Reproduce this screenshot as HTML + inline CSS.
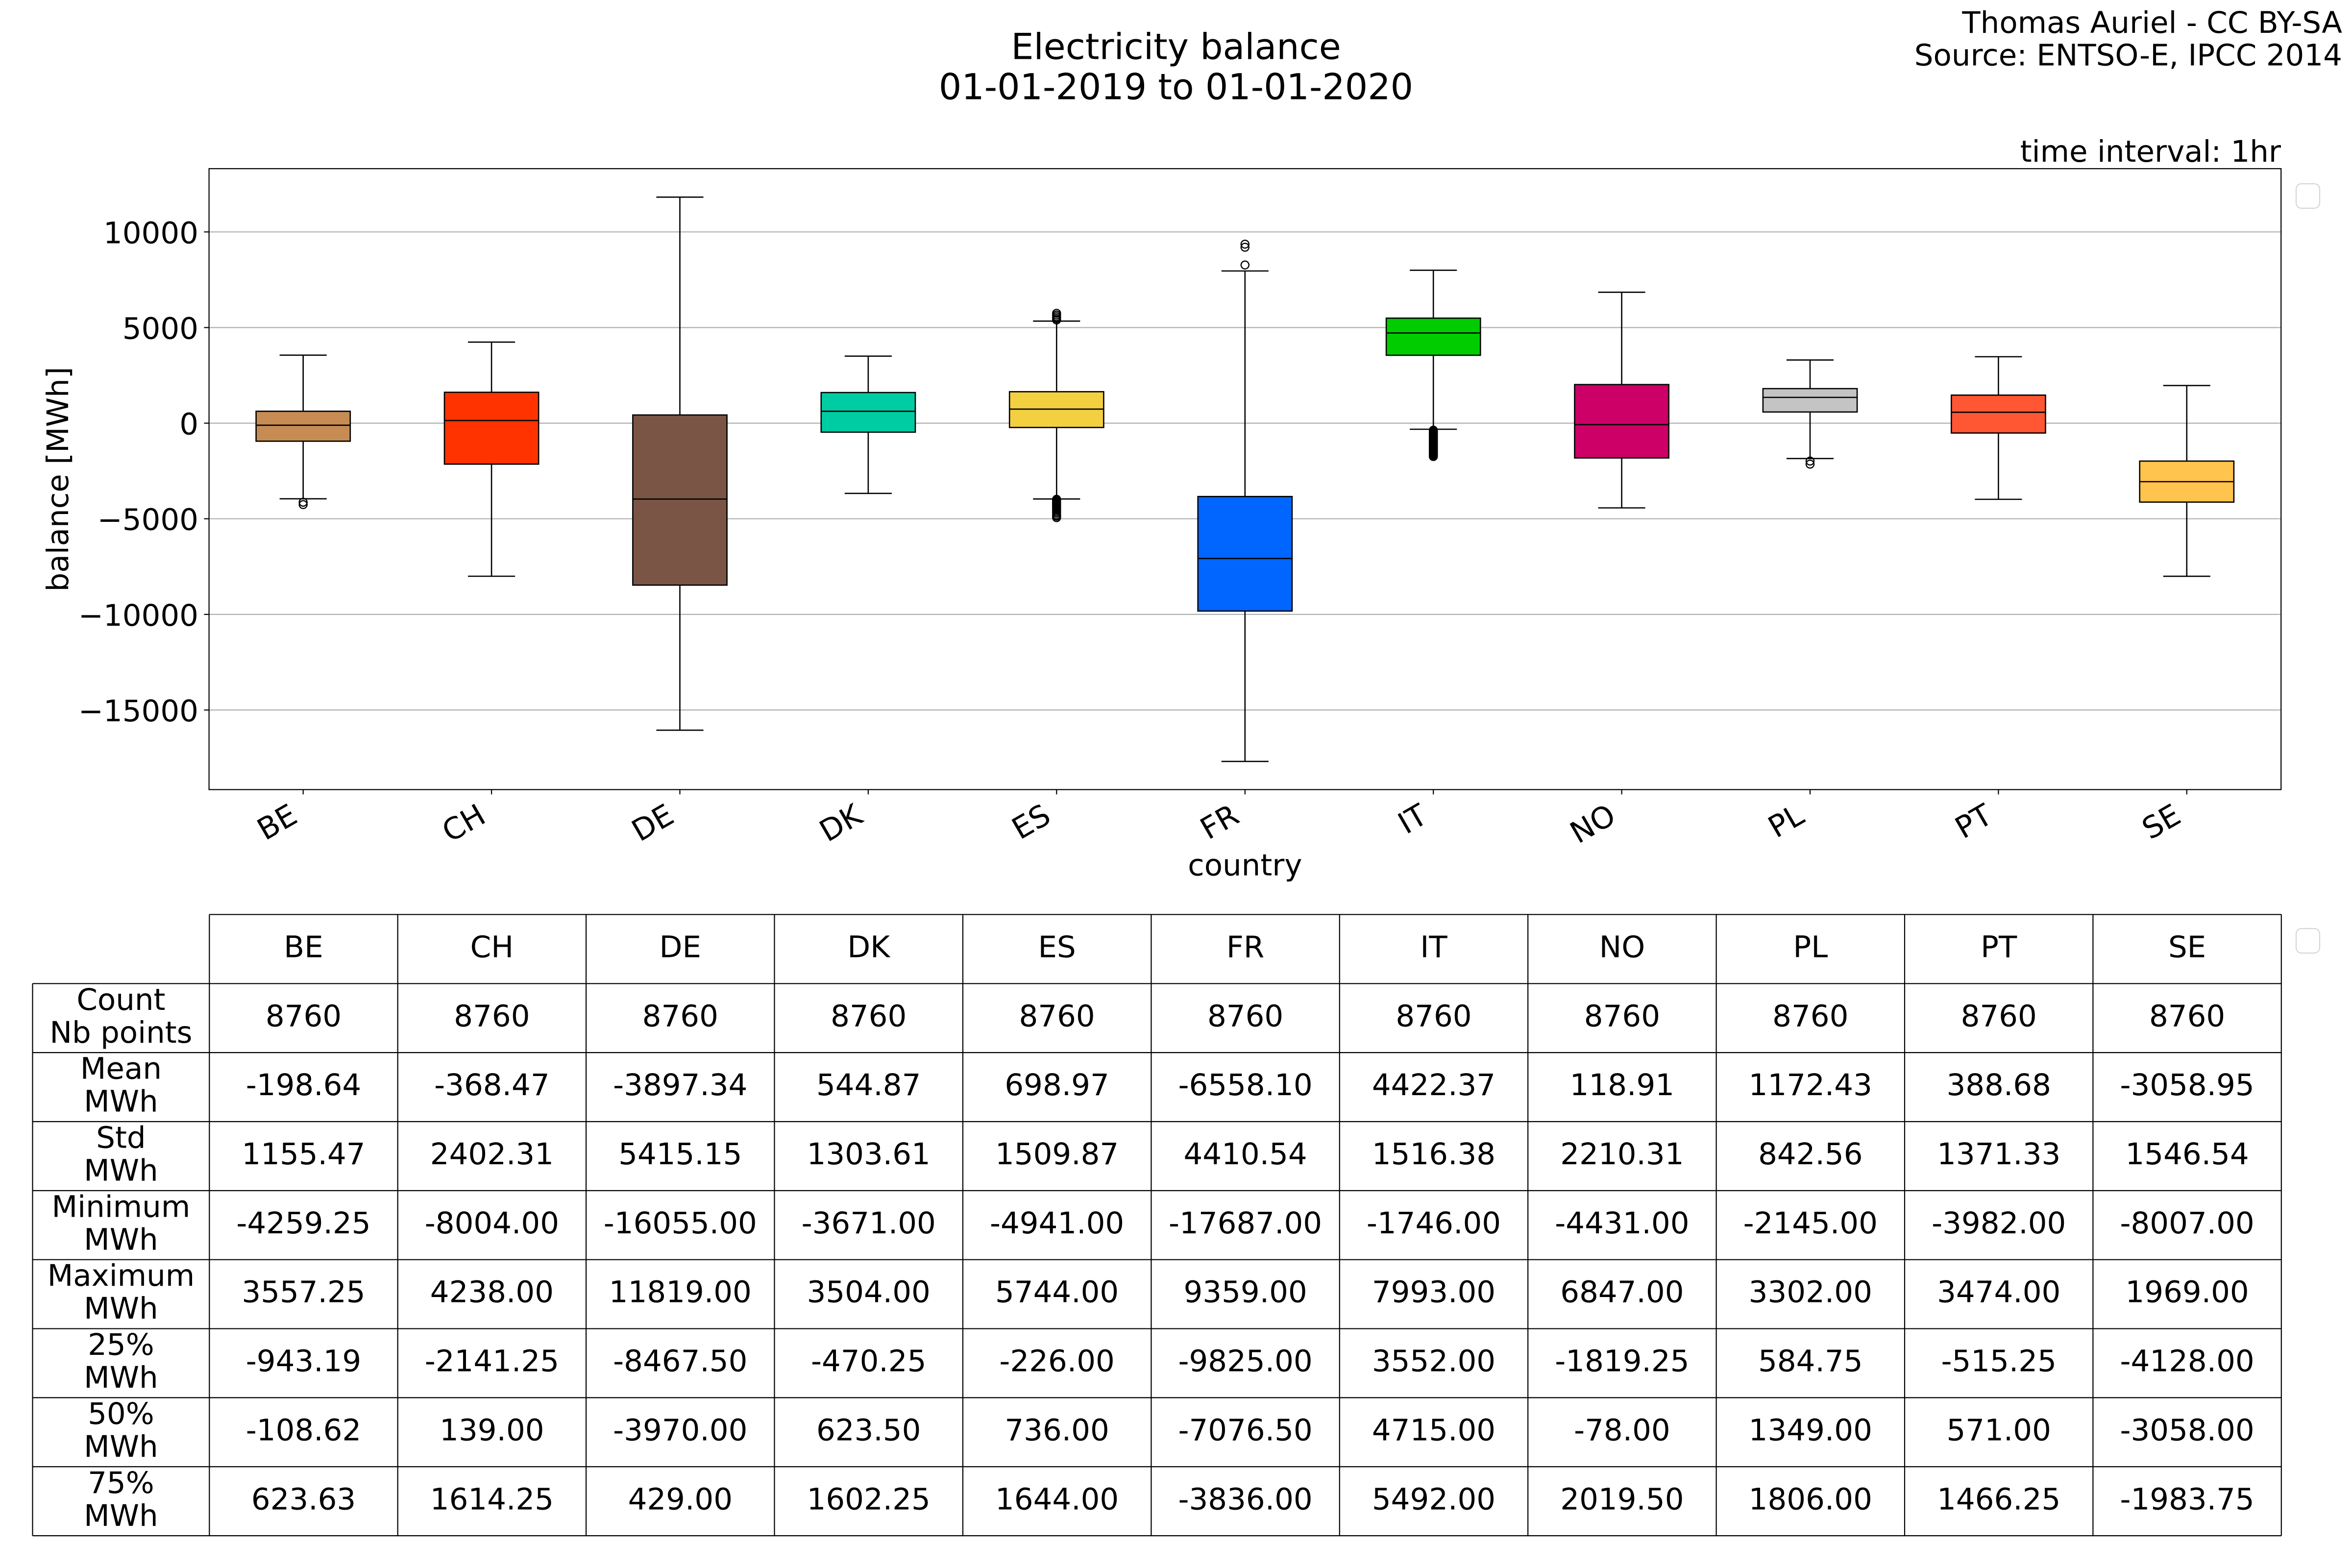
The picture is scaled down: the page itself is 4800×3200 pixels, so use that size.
<!DOCTYPE html>
<html><head><meta charset="utf-8"><style>html,body{margin:0;padding:0;background:#fff;}svg{display:block}</style></head>
<body>
<svg xmlns="http://www.w3.org/2000/svg" width="4800" height="3200" viewBox="0 0 4800 3200" font-family="'DejaVu Sans','Liberation Sans',sans-serif">
<rect x="0" y="0" width="4800" height="3200" fill="#fff"/>
<!-- titles -->
<text x="2400" y="120.5" font-size="73" text-anchor="middle">Electricity balance</text>
<text x="2400" y="202.5" font-size="73" text-anchor="middle">01-01-2019 to 01-01-2020</text>
<text x="4780" y="66.8" font-size="61" text-anchor="end">Thomas Auriel - CC BY-SA</text>
<text x="4780" y="133.6" font-size="61" text-anchor="end">Source: ENTSO-E, IPCC 2014</text>
<text x="4655" y="330" font-size="61" text-anchor="end">time interval: 1hr</text>

<!-- gridlines -->
<g stroke="#b0b0b0" stroke-width="2.2">
<line x1="427" y1="473.3" x2="4655" y2="473.3"/>
<line x1="427" y1="668.5" x2="4655" y2="668.5"/>
<line x1="427" y1="863.6" x2="4655" y2="863.6"/>
<line x1="427" y1="1058.7" x2="4655" y2="1058.7"/>
<line x1="427" y1="1253.9" x2="4655" y2="1253.9"/>
<line x1="427" y1="1449.0" x2="4655" y2="1449.0"/>
</g>

<!-- boxes -->
<g stroke="#000" stroke-width="2.6">
<!-- BE -->
<line x1="618.7" y1="839.3" x2="618.7" y2="724.8"/><line x1="618.7" y1="900.4" x2="618.7" y2="1017.9"/>
<line x1="570.65" y1="724.8" x2="666.75" y2="724.8"/><line x1="570.65" y1="1017.9" x2="666.75" y2="1017.9"/>
<rect x="522.6" y="839.3" width="192.2" height="61.1" fill="#c68c53"/>
<line x1="522.6" y1="867.8" x2="714.8" y2="867.8"/>
<!-- CH -->
<line x1="1003.1" y1="800.6" x2="1003.1" y2="698.2"/><line x1="1003.1" y1="947.2" x2="1003.1" y2="1176.0"/>
<line x1="955.05" y1="698.2" x2="1051.15" y2="698.2"/><line x1="955.05" y1="1176.0" x2="1051.15" y2="1176.0"/>
<rect x="907.0" y="800.6" width="192.2" height="146.6" fill="#ff3300"/>
<line x1="907.0" y1="858.2" x2="1099.2" y2="858.2"/>
<!-- DE -->
<line x1="1387.5" y1="846.9" x2="1387.5" y2="402.3"/><line x1="1387.5" y1="1194.1" x2="1387.5" y2="1490.2"/>
<line x1="1339.45" y1="402.3" x2="1435.55" y2="402.3"/><line x1="1339.45" y1="1490.2" x2="1435.55" y2="1490.2"/>
<rect x="1291.4" y="846.9" width="192.2" height="347.2" fill="#7a5546"/>
<line x1="1291.4" y1="1018.5" x2="1483.6" y2="1018.5"/>
<!-- DK -->
<line x1="1771.9" y1="801.1" x2="1771.9" y2="726.8"/><line x1="1771.9" y1="881.95" x2="1771.9" y2="1006.9"/>
<line x1="1723.85" y1="726.8" x2="1819.95" y2="726.8"/><line x1="1723.85" y1="1006.9" x2="1819.95" y2="1006.9"/>
<rect x="1675.8" y="801.1" width="192.2" height="80.85" fill="#00cca3"/>
<line x1="1675.8" y1="839.3" x2="1868.0" y2="839.3"/>
<!-- ES -->
<line x1="2156.3" y1="799.4" x2="2156.3" y2="655.3"/><line x1="2156.3" y1="872.4" x2="2156.3" y2="1018.3"/>
<line x1="2108.25" y1="655.3" x2="2204.35" y2="655.3"/><line x1="2108.25" y1="1018.3" x2="2204.35" y2="1018.3"/>
<rect x="2060.2" y="799.4" width="192.2" height="73.0" fill="#f3d040"/>
<line x1="2060.2" y1="834.9" x2="2252.4" y2="834.9"/>
<!-- FR -->
<line x1="2540.8" y1="1013.3" x2="2540.8" y2="553.0"/><line x1="2540.8" y1="1247.0" x2="2540.8" y2="1553.9"/>
<line x1="2492.75" y1="553.0" x2="2588.85" y2="553.0"/><line x1="2492.75" y1="1553.9" x2="2588.85" y2="1553.9"/>
<rect x="2444.7" y="1013.3" width="192.2" height="233.7" fill="#0066ff"/>
<line x1="2444.7" y1="1139.8" x2="2636.9" y2="1139.8"/>
<!-- IT -->
<line x1="2925.2" y1="649.3" x2="2925.2" y2="551.6"/><line x1="2925.2" y1="725.0" x2="2925.2" y2="876.0"/>
<line x1="2877.15" y1="551.6" x2="2973.25" y2="551.6"/><line x1="2877.15" y1="876.0" x2="2973.25" y2="876.0"/>
<rect x="2829.1" y="649.3" width="192.2" height="75.7" fill="#00cc00"/>
<line x1="2829.1" y1="679.6" x2="3021.3" y2="679.6"/>
<!-- NO -->
<line x1="3309.6" y1="784.8" x2="3309.6" y2="596.4"/><line x1="3309.6" y1="934.6" x2="3309.6" y2="1036.5"/>
<line x1="3261.55" y1="596.4" x2="3357.65" y2="596.4"/><line x1="3261.55" y1="1036.5" x2="3357.65" y2="1036.5"/>
<rect x="3213.5" y="784.8" width="192.2" height="149.8" fill="#cc0066"/>
<line x1="3213.5" y1="866.6" x2="3405.7" y2="866.6"/>
<!-- PL -->
<line x1="3694.0" y1="793.1" x2="3694.0" y2="734.7"/><line x1="3694.0" y1="840.8" x2="3694.0" y2="935.8"/>
<line x1="3645.95" y1="734.7" x2="3742.05" y2="734.7"/><line x1="3645.95" y1="935.8" x2="3742.05" y2="935.8"/>
<rect x="3597.9" y="793.1" width="192.2" height="47.7" fill="#c4c4c4"/>
<line x1="3597.9" y1="811.0" x2="3790.1" y2="811.0"/>
<!-- PT -->
<line x1="4078.4" y1="806.4" x2="4078.4" y2="728.0"/><line x1="4078.4" y1="883.7" x2="4078.4" y2="1019.0"/>
<line x1="4030.35" y1="728.0" x2="4126.45" y2="728.0"/><line x1="4030.35" y1="1019.0" x2="4126.45" y2="1019.0"/>
<rect x="3982.3" y="806.4" width="192.2" height="77.3" fill="#ff5733"/>
<line x1="3982.3" y1="841.3" x2="4174.5" y2="841.3"/>
<!-- SE -->
<line x1="4462.8" y1="941.0" x2="4462.8" y2="786.8"/><line x1="4462.8" y1="1024.7" x2="4462.8" y2="1176.1"/>
<line x1="4414.75" y1="786.8" x2="4510.85" y2="786.8"/><line x1="4414.75" y1="1176.1" x2="4510.85" y2="1176.1"/>
<rect x="4366.7" y="941.0" width="192.2" height="83.7" fill="#ffc44d"/>
<line x1="4366.7" y1="983.0" x2="4558.9" y2="983.0"/>
</g>

<!-- fliers -->
<g fill="none" stroke="#000" stroke-width="2.4">
<circle cx="618.7" cy="1025" r="8"/><circle cx="618.7" cy="1029.8" r="8"/>
<circle cx="2156.3" cy="639.4" r="8"/><circle cx="2156.3" cy="643" r="8"/><circle cx="2156.3" cy="646.5" r="8"/><circle cx="2156.3" cy="650" r="8"/><circle cx="2156.3" cy="653" r="8"/>
<circle cx="2156.3" cy="1019" r="8"/><circle cx="2156.3" cy="1020.5" r="8"/><circle cx="2156.3" cy="1022" r="8"/><circle cx="2156.3" cy="1023.5" r="8"/><circle cx="2156.3" cy="1025" r="8"/><circle cx="2156.3" cy="1026.5" r="8"/><circle cx="2156.3" cy="1028" r="8"/><circle cx="2156.3" cy="1029.5" r="8"/><circle cx="2156.3" cy="1031" r="8"/><circle cx="2156.3" cy="1032.5" r="8"/><circle cx="2156.3" cy="1034" r="8"/><circle cx="2156.3" cy="1035.5" r="8"/><circle cx="2156.3" cy="1037" r="8"/><circle cx="2156.3" cy="1038.5" r="8"/><circle cx="2156.3" cy="1041.5" r="8"/><circle cx="2156.3" cy="1044.5" r="8"/><circle cx="2156.3" cy="1047.5" r="8"/><circle cx="2156.3" cy="1051" r="8"/><circle cx="2156.3" cy="1053.5" r="8"/><circle cx="2156.3" cy="1056.4" r="8"/>
<circle cx="2540.8" cy="498.3" r="8"/><circle cx="2540.8" cy="504.6" r="8"/><circle cx="2540.8" cy="540.8" r="8"/>
<circle cx="2925.2" cy="878" r="8"/><circle cx="2925.2" cy="879.5" r="8"/><circle cx="2925.2" cy="881" r="8"/><circle cx="2925.2" cy="882.5" r="8"/><circle cx="2925.2" cy="884" r="8"/><circle cx="2925.2" cy="885.5" r="8"/><circle cx="2925.2" cy="887" r="8"/><circle cx="2925.2" cy="888.5" r="8"/><circle cx="2925.2" cy="890" r="8"/><circle cx="2925.2" cy="891.5" r="8"/><circle cx="2925.2" cy="893" r="8"/><circle cx="2925.2" cy="894.5" r="8"/><circle cx="2925.2" cy="896" r="8"/><circle cx="2925.2" cy="897.5" r="8"/><circle cx="2925.2" cy="899" r="8"/><circle cx="2925.2" cy="900.5" r="8"/><circle cx="2925.2" cy="902" r="8"/><circle cx="2925.2" cy="903.5" r="8"/><circle cx="2925.2" cy="905" r="8"/><circle cx="2925.2" cy="906.5" r="8"/><circle cx="2925.2" cy="908" r="8"/><circle cx="2925.2" cy="909.5" r="8"/><circle cx="2925.2" cy="911" r="8"/><circle cx="2925.2" cy="912.5" r="8"/><circle cx="2925.2" cy="914" r="8"/><circle cx="2925.2" cy="915.5" r="8"/><circle cx="2925.2" cy="917" r="8"/><circle cx="2925.2" cy="918.5" r="8"/><circle cx="2925.2" cy="920" r="8"/><circle cx="2925.2" cy="921.5" r="8"/><circle cx="2925.2" cy="923" r="8"/><circle cx="2925.2" cy="924.5" r="8"/><circle cx="2925.2" cy="926" r="8"/><circle cx="2925.2" cy="927.5" r="8"/><circle cx="2925.2" cy="929" r="8"/><circle cx="2925.2" cy="930.5" r="8"/><circle cx="2925.2" cy="931.7" r="8"/>
<circle cx="3694.0" cy="941" r="8"/><circle cx="3694.0" cy="947.2" r="8"/>
</g>

<!-- axes spine -->
<rect x="426.6" y="344.2" width="4228.6" height="1267.2" fill="none" stroke="#000" stroke-width="2.2"/>

<!-- ticks -->
<g stroke="#000" stroke-width="2.2">
<line x1="416.5" y1="473.3" x2="426.6" y2="473.3"/>
<line x1="416.5" y1="668.5" x2="426.6" y2="668.5"/>
<line x1="416.5" y1="863.6" x2="426.6" y2="863.6"/>
<line x1="416.5" y1="1058.7" x2="426.6" y2="1058.7"/>
<line x1="416.5" y1="1253.9" x2="426.6" y2="1253.9"/>
<line x1="416.5" y1="1449.0" x2="426.6" y2="1449.0"/>
<line x1="618.7" y1="1611.4" x2="618.7" y2="1621.2"/>
<line x1="1003.1" y1="1611.4" x2="1003.1" y2="1621.2"/>
<line x1="1387.5" y1="1611.4" x2="1387.5" y2="1621.2"/>
<line x1="1771.9" y1="1611.4" x2="1771.9" y2="1621.2"/>
<line x1="2156.3" y1="1611.4" x2="2156.3" y2="1621.2"/>
<line x1="2540.8" y1="1611.4" x2="2540.8" y2="1621.2"/>
<line x1="2925.2" y1="1611.4" x2="2925.2" y2="1621.2"/>
<line x1="3309.6" y1="1611.4" x2="3309.6" y2="1621.2"/>
<line x1="3694.0" y1="1611.4" x2="3694.0" y2="1621.2"/>
<line x1="4078.4" y1="1611.4" x2="4078.4" y2="1621.2"/>
<line x1="4462.8" y1="1611.4" x2="4462.8" y2="1621.2"/>
</g>

<!-- y tick labels -->
<g font-size="61" text-anchor="end">
<text x="405" y="496.3">10000</text>
<text x="405" y="691.5">5000</text>
<text x="405" y="886.6">0</text>
<text x="405" y="1081.7">−5000</text>
<text x="405" y="1276.9">−10000</text>
<text x="405" y="1472.0">−15000</text>
</g>
<text transform="translate(139,978) rotate(-90)" font-size="61" text-anchor="middle">balance [MWh]</text>

<!-- x tick labels -->
<g font-size="61" text-anchor="end">
<text transform="translate(610.7,1676) rotate(-30)">BE</text>
<text transform="translate(995.1,1676) rotate(-30)">CH</text>
<text transform="translate(1379.5,1676) rotate(-30)">DE</text>
<text transform="translate(1763.9,1676) rotate(-30)">DK</text>
<text transform="translate(2148.3,1676) rotate(-30)">ES</text>
<text transform="translate(2532.8,1676) rotate(-30)">FR</text>
<text transform="translate(2917.2,1676) rotate(-30)">IT</text>
<text transform="translate(3301.6,1676) rotate(-30)">NO</text>
<text transform="translate(3686.0,1676) rotate(-30)">PL</text>
<text transform="translate(4070.4,1676) rotate(-30)">PT</text>
<text transform="translate(4454.8,1676) rotate(-30)">SE</text>
</g>
<text x="2540.8" y="1786.7" font-size="61" text-anchor="middle">country</text>

<!-- legends (empty) -->
<rect x="4686" y="375" width="48" height="50" rx="11" fill="#fff" stroke="#d6d6d6" stroke-width="2.2"/>
<rect x="4686" y="1895" width="48" height="50" rx="11" fill="#fff" stroke="#d6d6d6" stroke-width="2.2"/>

<!-- table grid -->
<path fill="none" stroke="#000" stroke-width="2.2" d="
M427.3 1866.3 H4655.8
M66.5 2007.3 H4655.8
M66.5 2148.15 H4655.8
M66.5 2289.0 H4655.8
M66.5 2429.85 H4655.8
M66.5 2570.7 H4655.8
M66.5 2711.55 H4655.8
M66.5 2852.4 H4655.8
M66.5 2993.25 H4655.8
M66.5 3134.1 H4655.8
M66.5 2007.3 V3134.1
M427.3 1866.3 V3134.1
M811.7 1866.3 V3134.1
M1196.1 1866.3 V3134.1
M1580.5 1866.3 V3134.1
M1965.0 1866.3 V3134.1
M2349.4 1866.3 V3134.1
M2733.8 1866.3 V3134.1
M3118.2 1866.3 V3134.1
M3502.6 1866.3 V3134.1
M3887.0 1866.3 V3134.1
M4271.4 1866.3 V3134.1
M4655.8 1866.3 V3134.1"/>

<g font-size="61" text-anchor="middle">
<!-- header -->
<text x="619.5" y="1953.7">BE</text><text x="1003.9" y="1953.7">CH</text><text x="1388.3" y="1953.7">DE</text><text x="1772.7" y="1953.7">DK</text><text x="2157.1" y="1953.7">ES</text><text x="2541.6" y="1953.7">FR</text><text x="2926.0" y="1953.7">IT</text><text x="3310.4" y="1953.7">NO</text><text x="3694.8" y="1953.7">PL</text><text x="4079.2" y="1953.7">PT</text><text x="4463.6" y="1953.7">SE</text>
<!-- row labels -->
<text x="246.9" y="2060.8">Count</text><text x="246.9" y="2127.8">Nb points</text>
<text x="246.9" y="2201.65">Mean</text><text x="246.9" y="2268.65">MWh</text>
<text x="246.9" y="2342.5">Std</text><text x="246.9" y="2409.5">MWh</text>
<text x="246.9" y="2483.35">Minimum</text><text x="246.9" y="2550.35">MWh</text>
<text x="246.9" y="2624.2">Maximum</text><text x="246.9" y="2691.2">MWh</text>
<text x="246.9" y="2765.05">25%</text><text x="246.9" y="2832.05">MWh</text>
<text x="246.9" y="2905.9">50%</text><text x="246.9" y="2972.9">MWh</text>
<text x="246.9" y="3046.75">75%</text><text x="246.9" y="3113.75">MWh</text>
<!-- Count -->
<text x="619.5" y="2094.3">8760</text><text x="1003.9" y="2094.3">8760</text><text x="1388.3" y="2094.3">8760</text><text x="1772.7" y="2094.3">8760</text><text x="2157.1" y="2094.3">8760</text><text x="2541.6" y="2094.3">8760</text><text x="2926.0" y="2094.3">8760</text><text x="3310.4" y="2094.3">8760</text><text x="3694.8" y="2094.3">8760</text><text x="4079.2" y="2094.3">8760</text><text x="4463.6" y="2094.3">8760</text>
<!-- Mean -->
<text x="619.5" y="2235.15">-198.64</text><text x="1003.9" y="2235.15">-368.47</text><text x="1388.3" y="2235.15">-3897.34</text><text x="1772.7" y="2235.15">544.87</text><text x="2157.1" y="2235.15">698.97</text><text x="2541.6" y="2235.15">-6558.10</text><text x="2926.0" y="2235.15">4422.37</text><text x="3310.4" y="2235.15">118.91</text><text x="3694.8" y="2235.15">1172.43</text><text x="4079.2" y="2235.15">388.68</text><text x="4463.6" y="2235.15">-3058.95</text>
<!-- Std -->
<text x="619.5" y="2376.0">1155.47</text><text x="1003.9" y="2376.0">2402.31</text><text x="1388.3" y="2376.0">5415.15</text><text x="1772.7" y="2376.0">1303.61</text><text x="2157.1" y="2376.0">1509.87</text><text x="2541.6" y="2376.0">4410.54</text><text x="2926.0" y="2376.0">1516.38</text><text x="3310.4" y="2376.0">2210.31</text><text x="3694.8" y="2376.0">842.56</text><text x="4079.2" y="2376.0">1371.33</text><text x="4463.6" y="2376.0">1546.54</text>
<!-- Minimum -->
<text x="619.5" y="2516.85">-4259.25</text><text x="1003.9" y="2516.85">-8004.00</text><text x="1388.3" y="2516.85">-16055.00</text><text x="1772.7" y="2516.85">-3671.00</text><text x="2157.1" y="2516.85">-4941.00</text><text x="2541.6" y="2516.85">-17687.00</text><text x="2926.0" y="2516.85">-1746.00</text><text x="3310.4" y="2516.85">-4431.00</text><text x="3694.8" y="2516.85">-2145.00</text><text x="4079.2" y="2516.85">-3982.00</text><text x="4463.6" y="2516.85">-8007.00</text>
<!-- Maximum -->
<text x="619.5" y="2657.7">3557.25</text><text x="1003.9" y="2657.7">4238.00</text><text x="1388.3" y="2657.7">11819.00</text><text x="1772.7" y="2657.7">3504.00</text><text x="2157.1" y="2657.7">5744.00</text><text x="2541.6" y="2657.7">9359.00</text><text x="2926.0" y="2657.7">7993.00</text><text x="3310.4" y="2657.7">6847.00</text><text x="3694.8" y="2657.7">3302.00</text><text x="4079.2" y="2657.7">3474.00</text><text x="4463.6" y="2657.7">1969.00</text>
<!-- 25% -->
<text x="619.5" y="2798.55">-943.19</text><text x="1003.9" y="2798.55">-2141.25</text><text x="1388.3" y="2798.55">-8467.50</text><text x="1772.7" y="2798.55">-470.25</text><text x="2157.1" y="2798.55">-226.00</text><text x="2541.6" y="2798.55">-9825.00</text><text x="2926.0" y="2798.55">3552.00</text><text x="3310.4" y="2798.55">-1819.25</text><text x="3694.8" y="2798.55">584.75</text><text x="4079.2" y="2798.55">-515.25</text><text x="4463.6" y="2798.55">-4128.00</text>
<!-- 50% -->
<text x="619.5" y="2939.4">-108.62</text><text x="1003.9" y="2939.4">139.00</text><text x="1388.3" y="2939.4">-3970.00</text><text x="1772.7" y="2939.4">623.50</text><text x="2157.1" y="2939.4">736.00</text><text x="2541.6" y="2939.4">-7076.50</text><text x="2926.0" y="2939.4">4715.00</text><text x="3310.4" y="2939.4">-78.00</text><text x="3694.8" y="2939.4">1349.00</text><text x="4079.2" y="2939.4">571.00</text><text x="4463.6" y="2939.4">-3058.00</text>
<!-- 75% -->
<text x="619.5" y="3080.25">623.63</text><text x="1003.9" y="3080.25">1614.25</text><text x="1388.3" y="3080.25">429.00</text><text x="1772.7" y="3080.25">1602.25</text><text x="2157.1" y="3080.25">1644.00</text><text x="2541.6" y="3080.25">-3836.00</text><text x="2926.0" y="3080.25">5492.00</text><text x="3310.4" y="3080.25">2019.50</text><text x="3694.8" y="3080.25">1806.00</text><text x="4079.2" y="3080.25">1466.25</text><text x="4463.6" y="3080.25">-1983.75</text>
</g>
</svg>
</body></html>
